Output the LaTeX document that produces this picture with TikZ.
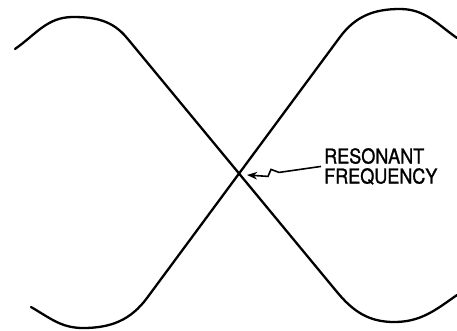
\documentclass[tikz,border=0pt]{standalone}
\usepackage{fontspec}
\newfontfamily\rotulofont[FakeStretch=0.88,FakeBold=1.2]{TeX Gyre Heros}
\usetikzlibrary{arrows.meta}
\begin{document}
\begin{tikzpicture}[x=1pt,y=-1pt]
\tikzset{
    >=Stealth,
    curva/.style={line width=2.3pt, line cap=round, black},
    seta/.style={->, line width=1.6pt, line join=miter},
    rotulo/.style={anchor=north west, inner sep=3pt, align=left,
                   font=\rotulofont\fontsize{20.5}{20}\selectfont}
}
\useasboundingbox (0,0) rectangle (457,330);

% Curvas
\draw[curva] (15,49) to[out=35,in=180] (73,17)
             to[out=0,in=129.6] (127,38)
             -- (337,292)
             to[out=-50.4,in=180] (394,322)
             to[out=0,in=215] (457,295);
\draw[curva] (31,307) to[out=-30,in=180] (83,328)
             to[out=0,in=233.5] (147,298)
             -- (340,37)
             to[out=53.5,in=180] (400,9)
             to[out=0,in=145] (457,38);

% Ponto de ressonancia
\coordinate (ponta) at (247,175);

% Legenda
\node[rotulo] (freq) at (321,145) {RESONANT\\FREQUENCY};
\draw[seta] (freq.west) -- ++(-42,6) -- ++(-8,-3) -- ++(-3,7) -- (ponta);
\end{tikzpicture}
\end{document}
